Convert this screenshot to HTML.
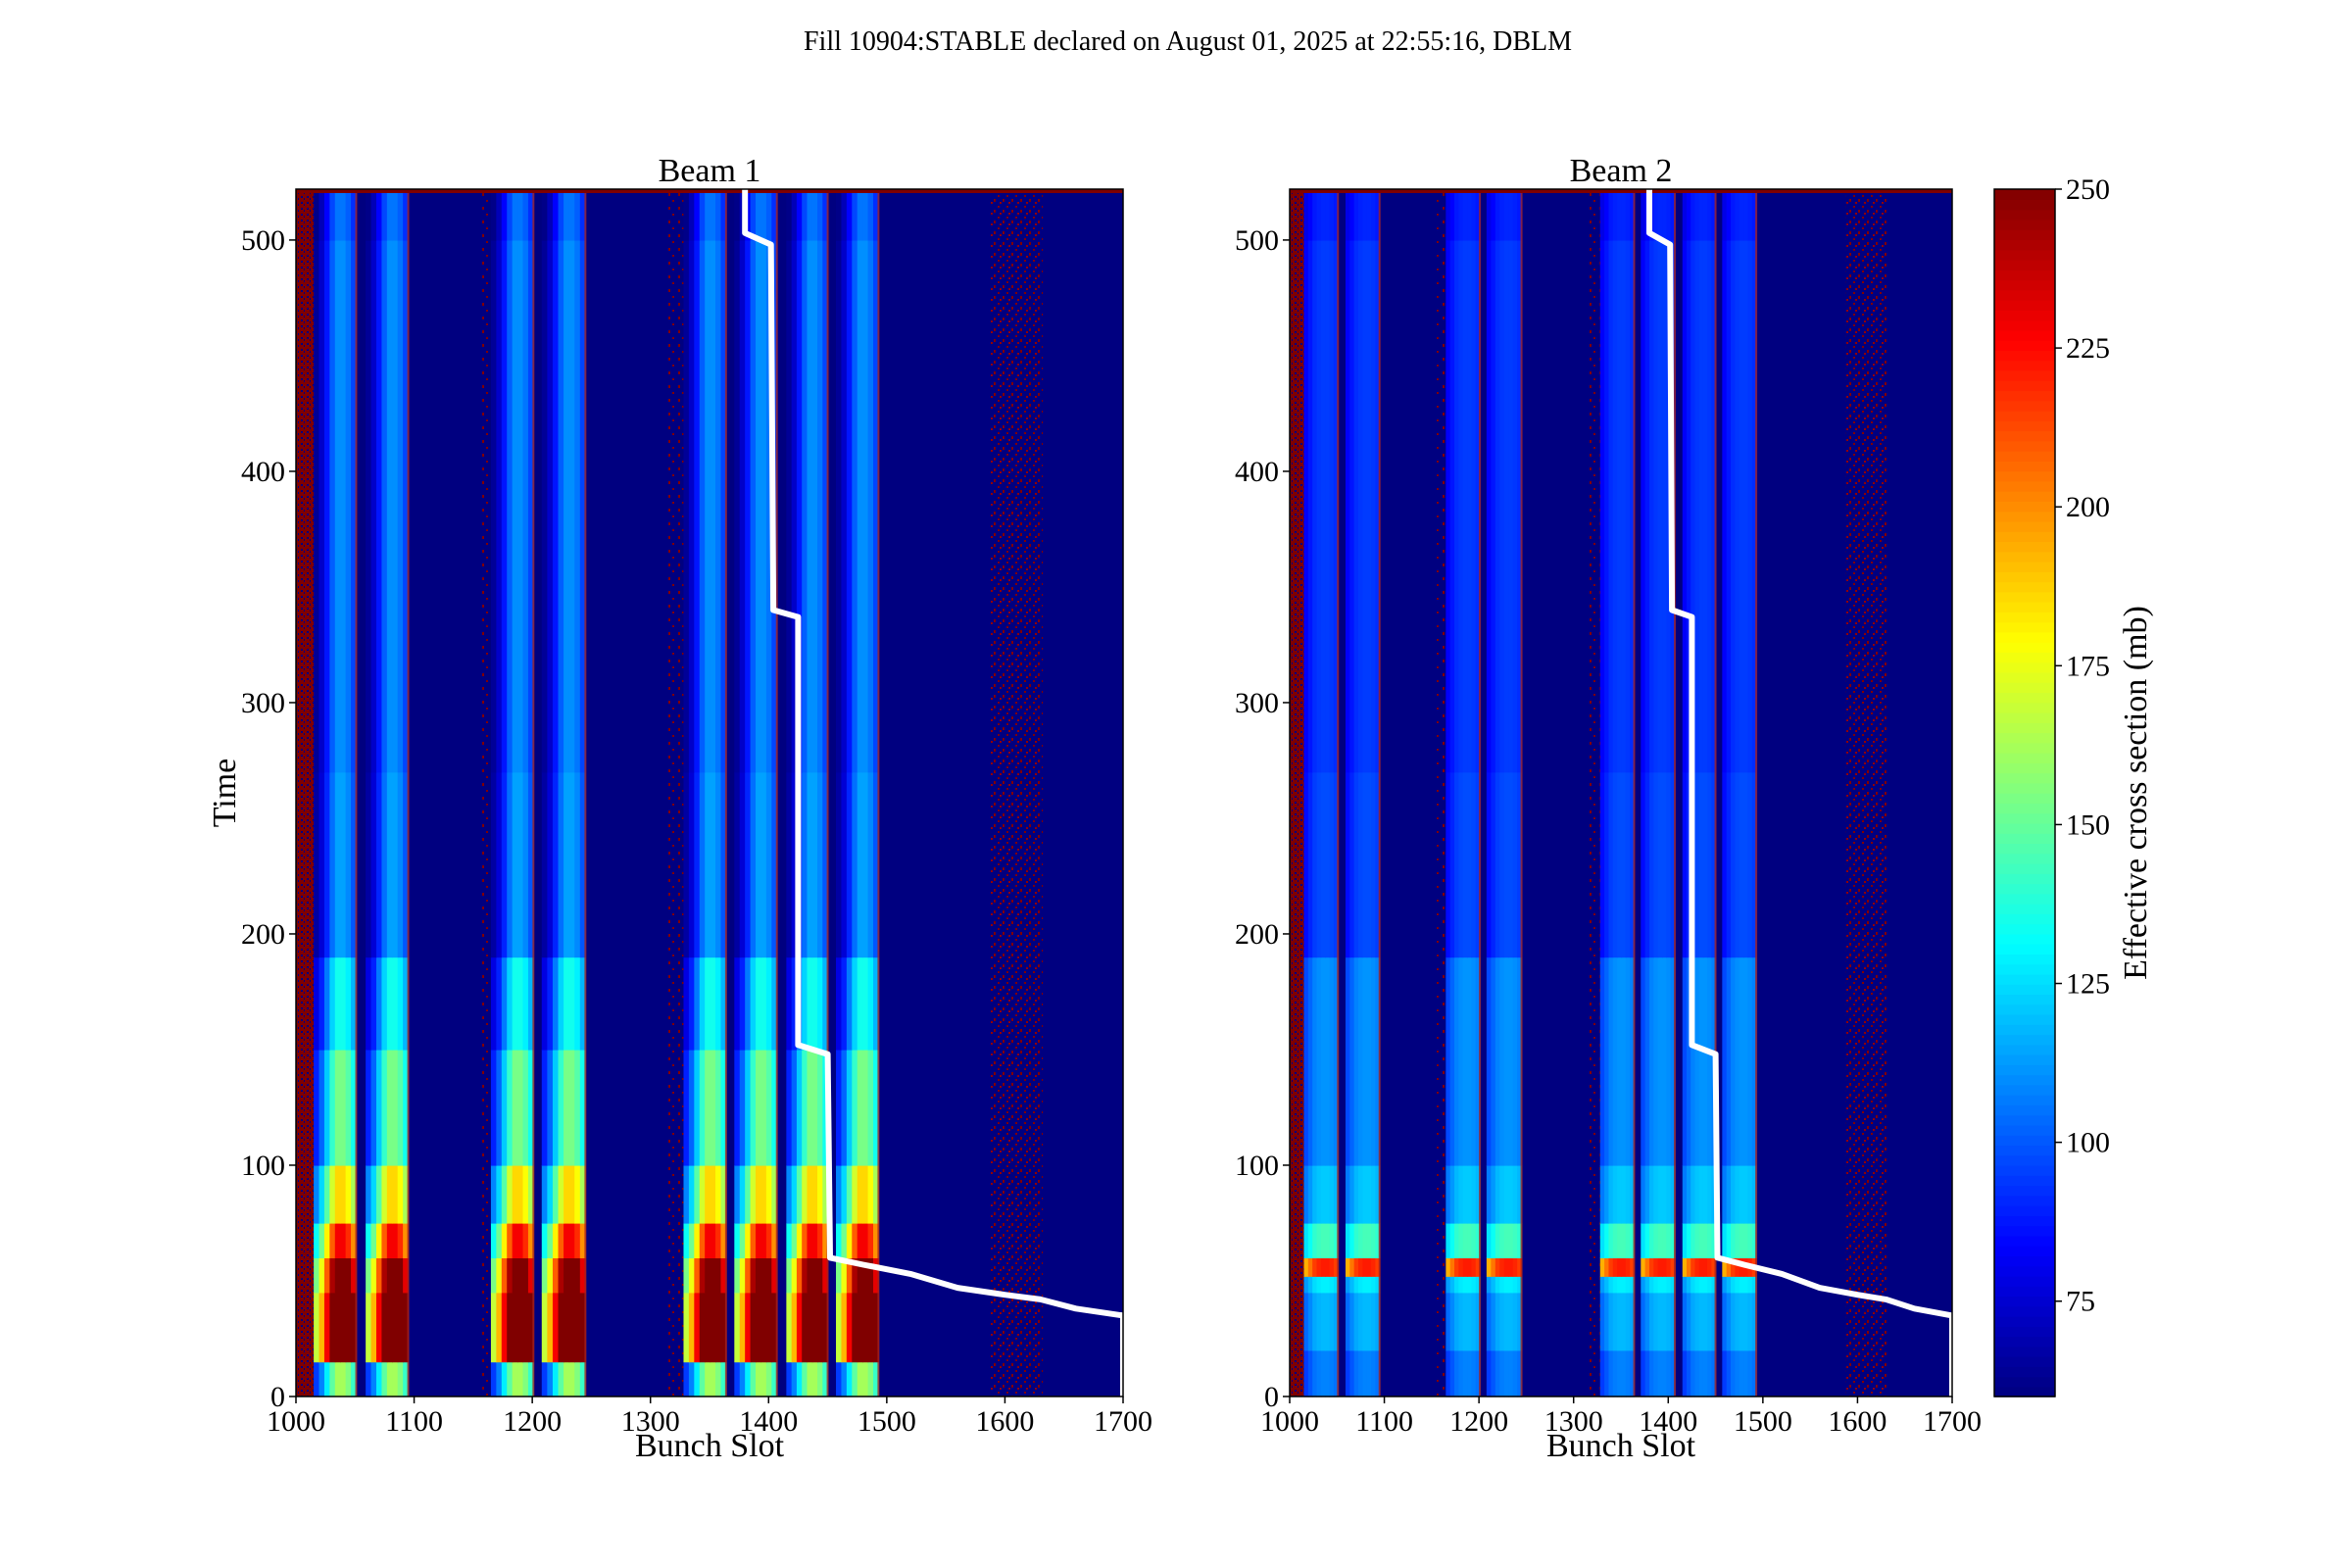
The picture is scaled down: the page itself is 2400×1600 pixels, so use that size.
<!DOCTYPE html>
<html><head><meta charset="utf-8"><style>
html,body{margin:0;padding:0;background:#fff;}
svg{display:block;font-family:"Liberation Serif",serif;}
</style></head><body>
<svg id="fig" width="2400" height="1600" viewBox="0 0 2400 1600">
<defs>
<pattern id="noiseDense" width="6" height="6" patternUnits="userSpaceOnUse">
<rect width="6" height="6" fill="#7f0000"/><rect x="1" y="2" width="2" height="2" fill="#00007f"/><rect x="4" y="4" width="1" height="2" fill="#00007f"/>
</pattern>
<pattern id="noiseSparse" width="9" height="11" patternUnits="userSpaceOnUse">
<rect x="1" y="1" width="2" height="2" fill="#7f0000"/><rect x="6" y="5" width="2" height="3" fill="#7f0000"/><rect x="3" y="8" width="2" height="2" fill="#900000"/>
</pattern>
<pattern id="noiseEdge" width="10" height="14" patternUnits="userSpaceOnUse">
<rect x="2" y="1" width="2" height="3" fill="#7f0000"/><rect x="6" y="8" width="2" height="2" fill="#7f0000"/>
</pattern>
</defs>
<text x="1212" y="51" font-size="28" text-anchor="middle">Fill 10904:STABLE declared on August 01, 2025 at 22:55:16, DBLM</text>
<g id="g1"></g>
<g id="g2"></g>
<g id="cb"></g>
</svg>
<script>
// ---- data ----
const trainStarts = [1015,1059,1165,1208,1328,1371,1415,1457];
const trainEnds   = [1051,1095,1201,1245,1364,1407,1450,1493];
const beam1Edges = [0,15,45,60,75,100,150,190,270,500,522];
const beam1Values = [135,240,220,190,155,128,112,95,92,88];
const beam2Edges = [0,20,45,52,60,75,100,190,270,500,522];
const beam2Values = [105,115,125,215,140,118,108,95,92,88];
const beam1Profile = [0.7,0.8,0.95,1.1,1.2,1.2,1.15,1.05];
const beam2Profile = [0.9,0.95,1.0,1.02,1.03,1.03,1.02,1.0];
const xTicks = [1000,1100,1200,1300,1400,1500,1600,1700];
const yTicks = [0,100,200,300,400,500];
const cbTicks = [75,100,125,150,175,200,225,250];
const stepBunch = [1380,1380,1402,1404,1425,1425,1450,1452,1480,1520,1560,1600,1630,1660,1700,1700];
const stepTime  = [522,503,498,340,337,152,148,60,57,53,47,44,42,38,35,0];
const vmin = 60, vmax = 250, xmin = 1000, xmax = 1700, ymin = 0, ymax = 522;

const NS = "http://www.w3.org/2000/svg";
function mk(tag, attrs, parent){const e=document.createElementNS(NS,tag);for(const k in attrs)e.setAttribute(k,attrs[k]);parent.appendChild(e);return e;}
function jet(v){
  let t=(v-vmin)/(vmax-vmin);t=Math.max(0,Math.min(1,t));
  const f=x=>Math.max(0,Math.min(1,x));
  const r=f(1.5-Math.abs(4*t-3)), g=f(1.5-Math.abs(4*t-2)), b=f(1.5-Math.abs(4*t-1));
  return `rgb(${Math.round(r*255)},${Math.round(g*255)},${Math.round(b*255)})`;
}
const axTop=193, axBot=1425;
function yS(v){return axBot-(v-ymin)/(ymax-ymin)*(axBot-axTop);}

function panel(gid, left, right, edges, values, profile, title){
  const g=document.getElementById(gid);
  const xS=v=>left+(v-xmin)/(xmax-xmin)*(right-left);
  let r=mk('rect',{x:left,y:axTop,width:right-left,height:axBot-axTop,fill:jet(vmin)},g);
  
  
  r=mk('rect',{x:xS(1000),y:axTop,width:xS(1015)-xS(1000),height:axBot-axTop,fill:'url(#noiseDense)'},g);
  
  
  r=mk('rect',{x:xS(1588),y:axTop,width:xS(1632)-xS(1588),height:axBot-axTop,fill:'url(#noiseSparse)'},g);
  
  
  [[1155,1165],[1315,1328]].forEach(p=>{
    const e=mk('rect',{x:xS(p[0]),y:axTop,width:xS(p[1])-xS(p[0]),height:axBot-axTop,fill:'url(#noiseEdge)'},g);
    
    
  });
  for(let t=0;t<trainStarts.length;t++){
    const w=(trainEnds[t]-trainStarts[t])/profile.length;
    for(let b=0;b<values.length;b++){
      for(let p=0;p<profile.length;p++){
        const x0=xS(trainStarts[t]+p*w), x1=xS(trainStarts[t]+(p+1)*w);
        const c=mk('rect',{x:x0,y:yS(edges[b+1]),width:x1-x0+0.6,height:yS(edges[b])-yS(edges[b+1])+0.6,fill:jet(values[b]*profile[p])},g);
        
        
      }
    }
    const ln=mk('rect',{x:xS(trainEnds[t])-1,y:axTop,width:2,height:axBot-axTop,fill:'#a02020',opacity:0.8},g);
    
    
  }
  r=mk('rect',{x:left,y:axTop,width:right-left,height:4,fill:'#7f0000'},g);
  
  
  const pts=stepBunch.map((b,i)=>xS(b).toFixed(1)+','+yS(stepTime[i]).toFixed(1)).join(' ');
  const pl=mk('polyline',{points:pts,fill:'none',stroke:'#fff','stroke-width':6,'stroke-linejoin':'round'},g);
  
  
  const fr=mk('rect',{x:left,y:axTop,width:right-left,height:axBot-axTop,fill:'none',stroke:'#000','stroke-width':1.5},g);
  
  
  xTicks.forEach(v=>{
    const x=xS(v);
    mk('line',{x1:x,x2:x,y1:axBot,y2:axBot+7,stroke:'#000','stroke-width':1.5},g);
    const t=mk('text',{x:x,y:axBot+35,'font-size':30,'text-anchor':'middle'},g);t.textContent=v;
    
    
  });
  yTicks.forEach(v=>{
    const y=yS(v);
    mk('line',{x1:left-7,x2:left,y1:y,y2:y,stroke:'#000','stroke-width':1.5},g);
    const t=mk('text',{x:left-11,y:y+10,'font-size':30,'text-anchor':'end'},g);t.textContent=v;
    
    
  });
  let t=mk('text',{x:(left+right)/2,y:185,'font-size':34,'text-anchor':'middle'},g);t.textContent=title;
  
  
  t=mk('text',{x:(left+right)/2,y:1486,'font-size':34,'text-anchor':'middle'},g);t.textContent='Bunch Slot';
  
  
}
panel('g1',302,1146,beam1Edges,beam1Values,beam1Profile,'Beam 1');
panel('g2',1316,1992,beam2Edges,beam2Values,beam2Profile,'Beam 2');
{
  const g=document.getElementById('g1');
  const t=mk('text',{x:0,y:0,'font-size':34,'text-anchor':'middle',transform:'translate(240,809) rotate(-90)'},g);
  t.textContent='Time';
  
  
}
// colorbar
{
  const g=document.getElementById('cb');
  const cl=2035, cr=2097;
  const n=120;
  for(let i=0;i<n;i++){
    const v0=vmin+(vmax-vmin)*i/n, v1=vmin+(vmax-vmin)*(i+1)/n;
    const y0=axBot-(v1-vmin)/(vmax-vmin)*(axBot-axTop), y1=axBot-(v0-vmin)/(vmax-vmin)*(axBot-axTop);
    const r=mk('rect',{x:cl,y:y0,width:cr-cl,height:y1-y0+0.7,fill:jet((v0+v1)/2)},g);
    
    
  }
  mk('rect',{x:cl,y:axTop,width:cr-cl,height:axBot-axTop,fill:'none',stroke:'#000','stroke-width':1.5},g);
  cbTicks.forEach(v=>{
    const y=axBot-(v-vmin)/(vmax-vmin)*(axBot-axTop);
    mk('line',{x1:cr,x2:cr+7,y1:y,y2:y,stroke:'#000','stroke-width':1.5},g);
    const t=mk('text',{x:cr+11,y:y+10,'font-size':30},g);t.textContent=v;
    
    
  });
  const t=mk('text',{x:0,y:0,'font-size':34,'text-anchor':'middle',transform:'translate(2190,809) rotate(-90)'},g);
  t.textContent='Effective cross section (mb)';
  
  
}
</script>
</body></html>
